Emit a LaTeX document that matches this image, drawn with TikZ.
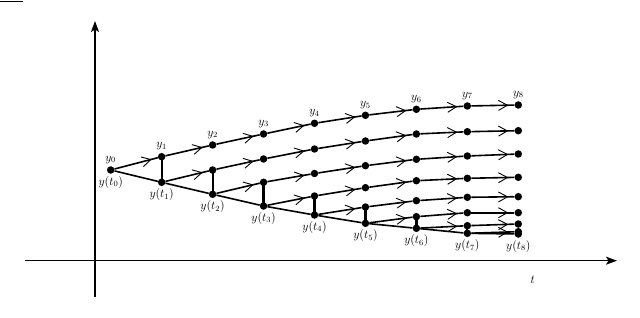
\documentclass[tikz,border=0pt]{standalone}
\usetikzlibrary{arrows.meta,decorations.markings}
\tikzset{
  dot/.style={circle,fill=black,inner sep=0pt,minimum size=7.5pt},
  stp/.style={line width=1.6pt,postaction={decorate},
    decoration={markings,mark=at position 0.86 with {\arrow[line width=0.9pt]{Straight Barb[length=9pt,width=10pt]}}}},
  exact/.style={line width=1.6pt},
  err/.style={line width=2.2pt},
  axis/.style={line width=1.3pt,-{Stealth[length=11pt,width=8pt,inset=2.5pt]}},
  lab/.style={font=\fontsize{12}{14}\selectfont,inner sep=1pt}
}
\begin{document}
\begin{tikzpicture}[x=1pt,y=-1pt]
\useasboundingbox (0,0) rectangle (640,318);
% top-left rule
\draw[line width=1pt] (0,2) -- (23,2);
% axes
\coordinate (xa0) at (25,260.7);
\coordinate (xa1) at (617,260.7);
\coordinate (ya0) at (95,297);
\coordinate (ya1) at (95,21);
\draw[axis] (xa0) -- (xa1);
\draw[axis] (ya0) -- (ya1);
\node[lab] (tl) at (532.7,280) {$t$};
% dots: line k starts at time k
\foreach \k/\vals in {
  0/{170,156.7,145,134,123.3,115.3,109.3,106,105},
  1/{182.3,170,159,149,141,134,131.7,130.7},
  2/{194.3,182.3,173.5,165.7,159.3,156,154},
  3/{206,196,187.7,180.7,178.3,177.3},
  4/{215,207,200.7,197.3,196.7},
  5/{223.3,216.7,212.7,212.7},
  6/{228.3,225.7,224},
  7/{233.3,231.7},
  8/{234}} {
  \foreach \v [count=\i from 0] in \vals {
    \pgfmathtruncatemacro\t{\k+\i}
    \node[dot] (p\t-\k) at ({110.7+50.95*\t},\v) {};
  }
}
% numerical steps with arrows
\foreach \k in {0,...,7} {
  \foreach \t in {\k,...,7} {
    \pgfmathtruncatemacro\tn{\t+1}
    \draw[stp] (p\t-\k) -- (p\tn-\k);
  }
}
% local errors
\foreach \t in {1,...,8} {
  \pgfmathtruncatemacro\tm{\t-1}
  \draw[err] (p\t-\tm.center) -- (p\t-\t.center);
}
% exact solution
\draw[exact] (p0-0) -- (p1-1) -- (p2-2) -- (p3-3) -- (p4-4) -- (p5-5) -- (p6-6) -- (p7-7) -- (p8-8);
% labels
\foreach \t in {0,...,8} {
  \node[lab,above=1.5pt] (ly\t) at (p\t-0.north) {$y_{\t}$};
  \node[lab,below=1pt] (le\t) at (p\t-\t.south) {$y(t_{\t})$};
}
\end{tikzpicture}
\end{document}
